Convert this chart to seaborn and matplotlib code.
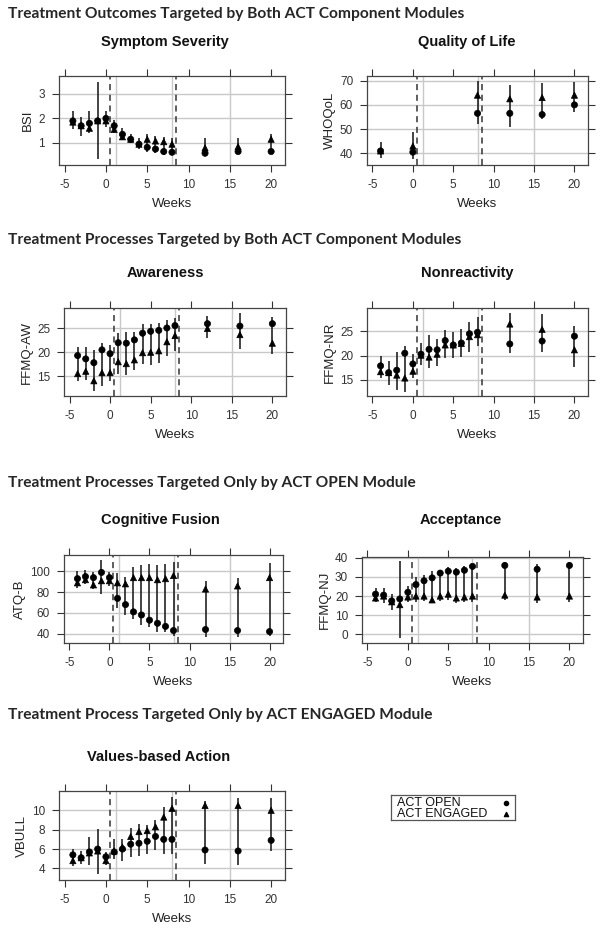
import numpy as np
import pandas as pd
import seaborn as sns
import matplotlib.pyplot as plt

# weeks of measurement
weeks = [-4, -3, -2, -1, 0, 1, 2, 3, 4, 5, 6, 7, 8, 12, 16, 20]
qol_weeks = [-4, 0, 8, 12, 16, 20]
groups = ['ACT OPEN', 'ACT ENGAGED']

# Symptom Severity (BSI)
bsi_open = [1.9, 1.7, 1.8, 1.9, 2.0, 1.7, 1.35, 1.15, 0.95, 0.82, 0.75, 0.65, 0.62, 0.58, 0.65, 0.65]
bsi_eng = [1.85, 1.7, 1.6, 1.9, 1.9, 1.55, 1.25, 1.15, 0.95, 1.15, 1.08, 1.05, 0.95, 0.8, 0.85, 1.15]
bsi_lo = [1.55, 1.3, 1.4, 0.35, 1.65, 1.4, 1.1, 1.0, 0.75, 0.65, 0.6, 0.5, 0.5, 0.45, 0.55, 0.55]
bsi_hi = [2.3, 2.05, 2.3, 3.5, 2.3, 1.95, 1.6, 1.35, 1.2, 1.35, 1.3, 1.25, 1.2, 1.2, 1.2, 1.35]

# Quality of Life (WHOQoL)
qol_open = [41, 40.5, 56.5, 56.5, 56, 60]
qol_eng = [41, 43, 64, 62.5, 63, 64]
qol_lo = [38, 37.5, 52, 51, 54, 57]
qol_hi = [44.5, 49, 70, 68, 69, 69.5]

# Awareness (FFMQ-AW)
aw_open = [19.3, 18.6, 17.8, 20.5, 19.7, 22, 21.9, 22.6, 24, 24.4, 24.6, 25.1, 25.6, 26, 25.5, 26]
aw_eng = [15.5, 16, 14, 15.7, 15.7, 18, 17.6, 18.4, 19.9, 20, 20.3, 22.2, 23.5, 25, 23.7, 21.9]
aw_lo = [14, 14.2, 11.8, 13, 14, 15.5, 15.2, 16.3, 17.5, 17.3, 17.7, 19.2, 20.3, 23, 20.7, 19.6]
aw_hi = [21, 21.2, 20.5, 22, 21.5, 24, 24.2, 24.3, 25.9, 26, 26.2, 26.8, 27.2, 27.7, 28.3, 27.4]

# Nonreactivity (FFMQ-NR)
nr_open = [17.9, 16.5, 17, 20.5, 18.3, 20.3, 21.3, 21.2, 23.1, 22.2, 22.6, 24.5, 24.8, 22.4, 23, 24]
nr_eng = [16.7, 16.5, 16, 15.4, 16.8, 20.1, 19.7, 20.3, 22.2, 22.2, 22.5, 23.9, 24.3, 26.5, 25.4, 21.2]
nr_lo = [15.5, 14, 13, 12.5, 15.5, 18, 17.5, 17.9, 19.5, 19.5, 19.8, 20.7, 22, 20.5, 20.7, 17.6]
nr_hi = [20, 18.8, 20.8, 22, 20.4, 22.5, 24.3, 23.5, 25.3, 24.8, 25.5, 27, 28, 28.7, 28.5, 26.2]

# Cognitive Fusion (ATQ-B)
atq_open = [93, 95, 94, 99, 94, 74, 68, 61, 58, 53, 50, 47, 43, 44, 43, 42]
atq_eng = [89, 92, 87, 91, 91, 89, 88, 94, 94, 94, 92, 93, 96, 83, 86, 94]
atq_lo = [84, 88, 83, 78, 86, 65, 58, 54, 48, 46, 42, 42, 38, 37, 37, 38]
atq_hi = [100, 101, 99, 111, 99, 98, 95, 104, 106, 107, 106, 107, 109, 91, 94, 108]

# Acceptance (FFMQ-NJ)
nj_open = [21, 20.5, 17.5, 18.5, 22, 26, 28, 29.5, 32, 33, 32.5, 33.5, 35.5, 36, 34, 36]
nj_eng = [19, 20, 17, 15.5, 19.5, 20, 20, 18, 20, 21, 19, 19.5, 20, 20.5, 19.5, 20]
nj_lo = [17, 16.5, 12.5, -2, 17, 17, 17.5, 16.5, 17.5, 18, 16.5, 17, 17, 18, 16.5, 17]
nj_hi = [24, 24, 21, 38.5, 25, 30, 31, 33, 33.5, 35, 34.5, 35.5, 37, 38, 36.5, 38]

# Values-based Action (VBULL)
vb_open = [5.4, 5.1, 5.7, 6.0, 5.2, 5.7, 6.0, 6.5, 6.6, 6.8, 7.3, 7.0, 7.0, 5.9, 5.8, 6.9]
vb_eng = [4.8, 5.1, 5.6, 5.8, 4.8, 5.8, 6.2, 7.3, 7.8, 7.9, 8.3, 9.3, 10.2, 10.5, 10.5, 10.0]
vb_lo = [4.2, 4.5, 4.3, 3.4, 4.3, 5.0, 4.8, 5.2, 5.3, 5.5, 5.9, 5.5, 5.5, 4.5, 4.3, 5.8]
vb_hi = [6.0, 5.8, 7.2, 8.1, 5.7, 7.0, 7.0, 8.2, 8.6, 8.5, 9.0, 10.3, 11.4, 11.0, 11.3, 11.3]

sns.set_style('white')
plt.rcParams['font.family'] = ['Liberation Sans', 'DejaVu Sans']

fig = plt.figure(figsize=(6.04, 9.30), dpi=100)
W, H = 604, 930
markers = {groups[0]: 'o', groups[1]: '^'}


def add_axes(x0, x1, y0, y1):
    return fig.add_axes([x0 / W, 1 - y1 / H, (x1 - x0) / W, (y1 - y0) / H])


def panel(ax, x, y_open, y_eng, lo, hi, ylabel, yticks, ylim):
    df = pd.DataFrame({'week': list(x) * 2,
                       'value': list(y_open) + list(y_eng),
                       'group': [groups[0]] * len(x) + [groups[1]] * len(x)})
    for yt in yticks:
        ax.axhline(yt, color='#c8c8c8', lw=1, zorder=0)
    for xv in [1.2, 8, 15]:
        ax.axvline(xv, color='#c8c8c8', lw=1, zorder=0)
    for xv in [0.5, 8.5]:
        ax.axvline(xv, color='#333333', lw=1.1, ls=(0, (4, 3)), zorder=1)
    ax.vlines(x, lo, hi, color='#1a1a1a', lw=1.15, zorder=2)
    sns.scatterplot(data=df, x='week', y='value', style='group', markers=markers,
                    color='black', edgecolor='black', s=20, linewidth=0.5,
                    ax=ax, legend=False, zorder=3)
    ax.set_xlim(-5.68, 21.68)
    ax.set_ylim(*ylim)
    ax.set_xticks([-5, 0, 5, 10, 15, 20])
    ax.set_xticklabels(['-5', '0', '5', '10', '15', '20'])
    ax.set_yticks(yticks)
    ax.set_xlabel('Weeks', fontsize=9.5, color='#222222', labelpad=5)
    ax.set_ylabel(ylabel, fontsize=9.5, color='#222222', labelpad=3)
    ax.tick_params(axis='both', which='both', direction='out', length=5, width=0.8,
                   color='#333333', labelsize=8.5, labelcolor='#333333',
                   top=True, right=True, bottom=True, left=True, pad=5)
    for sp in ax.spines.values():
        sp.set_color('#444444')
        sp.set_linewidth(0.9)


ax1 = add_axes(59, 285, 76, 165)
panel(ax1, weeks, bsi_open, bsi_eng, bsi_lo, bsi_hi, 'BSI', [1, 2, 3], (0.1, 3.73))
ax2 = add_axes(367, 588, 76, 165)
panel(ax2, qol_weeks, qol_open, qol_eng, qol_lo, qol_hi, 'WHOQoL', [40, 50, 60, 70], (35.2, 71.9))
ax3 = add_axes(64, 286, 308, 396)
panel(ax3, weeks, aw_open, aw_eng, aw_lo, aw_hi, 'FFMQ-AW', [15, 20, 25], (10.8, 29.3))
ax4 = add_axes(367, 588, 308, 396)
panel(ax4, weeks, nr_open, nr_eng, nr_lo, nr_hi, 'FFMQ-NR', [15, 20, 25], (11.7, 29.8))
ax5 = add_axes(64, 283, 555, 643)
panel(ax5, weeks, atq_open, atq_eng, atq_lo, atq_hi, 'ATQ-B', [40, 60, 80, 100], (31, 115.8))
ax6 = add_axes(362, 583, 557, 643)
panel(ax6, weeks, nj_open, nj_eng, nj_lo, nj_hi, 'FFMQ-NJ', [0, 10, 20, 30, 40], (-4.5, 40.4))
ax7 = add_axes(59, 285, 791, 880)
panel(ax7, weeks, vb_open, vb_eng, vb_lo, vb_hi, 'VBULL', [4, 6, 8, 10], (2.8, 12.0))

# key box in the empty slot: labels left, symbols right
axk = add_axes(391, 515, 795, 820)
axk.set_xlim(0, 1)
axk.set_ylim(0, 1)
axk.set_xticks([])
axk.set_yticks([])
for sp in axk.spines.values():
    sp.set_color('#555555')
    sp.set_linewidth(0.9)
for i, g in enumerate(groups):
    yk = 0.7 - i * 0.44
    axk.text(0.05, yk, g, fontsize=9, va='center', ha='left', color='#111111')
    axk.scatter([0.925], [yk], marker=markers[g], s=9, color='black')

# section headings
sec_font = dict(fontsize=11.2, fontweight='bold', family=['Lato', 'DejaVu Sans'], va='center', ha='left')
fig.text(8 / W, 1 - 14 / H, 'Treatment Outcomes Targeted by Both ACT Component Modules', **sec_font)
fig.text(8 / W, 1 - 240 / H, 'Treatment Processes Targeted by Both ACT Component Modules', **sec_font)
fig.text(8 / W, 1 - 483 / H, 'Treatment Processes Targeted Only by ACT OPEN Module', **sec_font)
fig.text(8 / W, 1 - 715 / H, 'Treatment Process Targeted Only by ACT ENGAGED Module', **sec_font)

# panel titles
ttl_font = dict(fontsize=10.5, fontweight='bold', ha='center', va='center', color='#111111')
fig.text(165 / W, 1 - 42 / H, 'Symptom Severity', **ttl_font)
fig.text(467 / W, 1 - 42 / H, 'Quality of Life', **ttl_font)
fig.text(165 / W, 1 - 273 / H, 'Awareness', **ttl_font)
fig.text(467 / W, 1 - 273 / H, 'Nonreactivity', **ttl_font)
fig.text(160 / W, 1 - 520 / H, 'Cognitive Fusion', **ttl_font)
fig.text(461 / W, 1 - 520 / H, 'Acceptance', **ttl_font)
fig.text(159 / W, 1 - 757 / H, 'Values-based Action', **ttl_font)

fig.savefig('out.png', dpi=100)
